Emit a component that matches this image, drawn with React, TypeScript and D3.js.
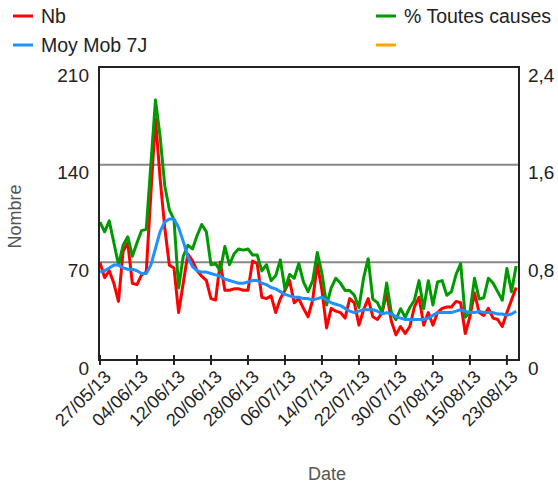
import React from 'react';
import * as d3 from 'd3';

const startDate = new Date(2013, 4, 27);

const nbValues = [
  70, 59, 64, 55, 42, 78, 84, 55, 54, 61,
  63, 119, 173, 130, 95, 68, 66, 34, 55, 76,
  71, 64, 60, 57, 44, 43, 70, 50, 50, 51,
  51, 50, 50, 71, 69, 45, 44, 46, 34, 44,
  50, 57, 41, 44, 37, 31, 43, 69, 50, 23,
  37, 35, 34, 30, 44, 41, 25, 36, 44, 31,
  29, 34, 48, 28, 18, 24, 19, 24, 38, 45,
  25, 34, 25, 34, 37, 38, 38, 42, 41, 19,
  31, 48, 34, 32, 37, 30, 29, 24, 34, 43,
  52,
];

const moyMobValues = [
  63, 64, 66, 68, 68, 66, 65, 65, 64, 62,
  62, 68, 80, 92, 99, 101, 101, 95, 85, 74,
  67, 64, 63, 63, 62, 61, 60, 58, 57, 56,
  55, 55, 56, 57, 57, 55, 54, 52, 51, 49,
  47, 46, 45, 45, 44, 44, 43, 44, 45, 43,
  41, 40, 39, 37, 35, 34, 35, 36, 36, 36,
  35, 33, 34, 33, 31, 30, 29, 29, 29, 29,
  29, 30, 32, 34, 34, 34, 34, 35, 36, 35,
  34, 34, 35, 34, 34, 34, 33, 33, 32, 33,
  35,
];

const pctValues = [
  1.13, 1.05, 1.14, 0.96, 0.78, 0.94, 1.01, 0.85, 0.96, 1.06,
  1.07, 1.60, 2.13, 1.83, 1.43, 1.23, 1.15, 0.59, 0.85, 0.94,
  0.91, 1.02, 1.11, 1.05, 0.78, 0.79, 0.73, 0.93, 0.78, 0.87,
  0.91, 0.90, 0.91, 0.86, 0.86, 0.73, 0.78, 0.65, 0.69, 0.82,
  0.58, 0.70, 0.67, 0.79, 0.64, 0.56, 0.65, 0.88, 0.71, 0.45,
  0.59, 0.67, 0.63, 0.57, 0.57, 0.53, 0.43, 0.67, 0.83, 0.50,
  0.47, 0.39, 0.63, 0.39, 0.33, 0.42, 0.35, 0.43, 0.49, 0.65,
  0.42, 0.65, 0.45, 0.64, 0.65, 0.53, 0.56, 0.70, 0.79, 0.35,
  0.39, 0.67, 0.50, 0.51, 0.67, 0.63, 0.56, 0.49, 0.75, 0.56,
  0.77,
];

const xTickLabels = [
  '27/05/13', '04/06/13', '12/06/13', '20/06/13', '28/06/13', '06/07/13',
  '14/07/13', '22/07/13', '30/07/13', '07/08/13', '15/08/13', '23/08/13',
];
const xTickStepDays = 8;
const leftTicks = [0, 70, 140, 210];
const rightTicks = [0, 0.8, 1.6, 2.4];
const gridTicks = [70, 140];

const legendLabels = ['Nb', '% Toutes causes', 'Moy Mob 7J', ''];
const legendColors = ['#ff0000', '#009a00', '#1e90ff', '#ffa500'];

const FONT = '"Liberation Sans", Arial, sans-serif';

export default function App() {
  const W = 558;
  const H = 488;
  const left = 99;
  const right = 519;
  const top = 67;
  const bottom = 360;

  const dates = nbValues.map((_, i) => d3.timeDay.offset(startDate, i));
  const endDate = new Date(startDate.getTime() + 90.4 * 864e5);
  const x = d3.scaleTime().domain([startDate, endDate]).range([left + 1, right - 1]);
  const yL = d3.scaleLinear().domain([0, 210]).range([bottom, top]);
  const yR = d3.scaleLinear().domain([0, 2.4]).range([bottom, top]);

  const lineL = d3
    .line<number>()
    .x((_, i) => x(dates[i]))
    .y((d) => yL(d));
  const lineR = d3
    .line<number>()
    .x((_, i) => x(dates[i]))
    .y((d) => yR(d));

  const tickDates = xTickLabels.map((_, k) => d3.timeDay.offset(startDate, k * xTickStepDays));
  const fmtR = (v: number) => (v === 0 ? '0' : v.toFixed(1).replace('.', ','));

  const legendPos = [
    { x: 13, y: 16 },
    { x: 376, y: 16 },
    { x: 13, y: 45 },
    { x: 376, y: 45 },
  ];

  return (
    <svg
      width={W}
      height={H}
      style={{ position: 'absolute', left: 0, top: 0, display: 'block', background: '#fff' }}
      fontFamily={FONT}
    >
      {/* legend */}
      {legendLabels.map((lab, i) => (
        <g key={'lg' + i} transform={`translate(${legendPos[i].x},${legendPos[i].y})`}>
          <line x1={0} x2={20} y1={0} y2={0} stroke={legendColors[i]} strokeWidth={3} />
          <text x={28} y={0} dy="0.35em" fontSize={19.5} fill="#222">
            {lab}
          </text>
        </g>
      ))}

      {/* grid lines */}
      {gridTicks.map((t) => (
        <line key={'g' + t} x1={left} x2={right} y1={yL(t)} y2={yL(t)} stroke="#888" strokeWidth={2} />
      ))}

      {/* series */}
      <path d={lineL(nbValues) || ''} fill="none" stroke={legendColors[0]} strokeWidth={3} strokeLinejoin="round" />
      <path d={lineR(pctValues) || ''} fill="none" stroke={legendColors[1]} strokeWidth={3} strokeLinejoin="round" />
      <path d={lineL(moyMobValues) || ''} fill="none" stroke={legendColors[2]} strokeWidth={3} strokeLinejoin="round" />

      {/* frame */}
      <rect x={left} y={top} width={right - left} height={bottom - top} fill="none" stroke="#222" strokeWidth={2} />

      {/* x ticks */}
      {tickDates.map((d, k) => (
        <g key={'xt' + k} transform={`translate(${x(d)},0)`}>
          <line y1={bottom - 5} y2={bottom + 5} stroke="#222" strokeWidth={2} />
          <text
            transform={`translate(12,${bottom + 18}) rotate(-45)`}
            textAnchor="end"
            fontSize={18}
            fill="#222"
          >
            {xTickLabels[k]}
          </text>
        </g>
      ))}

      {/* left axis labels */}
      {leftTicks.map((t) => (
        <text key={'yl' + t} x={89} y={yL(t) + 8} dy="0.35em" textAnchor="end" fontSize={19} fill="#222">
          {t}
        </text>
      ))}

      {/* right axis labels */}
      {rightTicks.map((t) => (
        <text key={'yr' + t} x={528} y={yR(t) + 8} dy="0.35em" textAnchor="start" fontSize={19} fill="#222">
          {fmtR(t)}
        </text>
      ))}

      {/* axis titles */}
      <text
        transform={`translate(15,${(top + bottom) / 2 + 3}) rotate(-90)`}
        textAnchor="middle"
        dy="0.35em"
        fontSize={18}
        fill="#555"
      >
        Nombre
      </text>
      <text x={327} y={474} dy="0.35em" textAnchor="middle" fontSize={18} fill="#555">
        Date
      </text>
    </svg>
  );
}
